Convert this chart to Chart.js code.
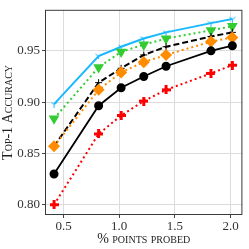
<!DOCTYPE html>
<html>
<head>
<meta charset="utf-8">
<script src="https://cdn.jsdelivr.net/npm/chart.js@4"></script>
<style>
html,body{margin:0;padding:0;background:#fff;}
#wrap{width:249px;height:249px;}
</style>
</head>
<body>
<div id="wrap"><canvas id="c" width="249" height="249"></canvas></div>
<script>
const pointsProbed = [0.415, 0.815, 1.017, 1.22, 1.42, 1.823, 2.015];
const cyanSeries   = [0.898, 0.945, 0.954, 0.962, 0.968, 0.977, 0.981];
const greenSeries  = [0.884, 0.934, 0.949, 0.956, 0.962, 0.970, 0.974];
const dashedSeries = [0.857, 0.919, 0.933, 0.946, 0.954, 0.964, 0.968];
const orangeSeries = [0.857, 0.912, 0.929, 0.939, 0.946, 0.959, 0.963];
const solidSeries  = [0.830, 0.8965, 0.914, 0.925, 0.935, 0.950, 0.955];
const redSeries    = [0.800, 0.869, 0.887, 0.901, 0.912, 0.928, 0.936];
const xTicks = [0.5, 1.0, 1.5, 2.0];
const yTicks = [0.80, 0.85, 0.90, 0.95];

function pts(ys){ return ys.map((y,i)=>({x:pointsProbed[i], y:y})); }

function plusMarker(color, size, arm){
  const c = document.createElement('canvas');
  c.width = size; c.height = size;
  const g = c.getContext('2d');
  g.fillStyle = color;
  const o = (size-arm)/2;
  g.fillRect(o,0,arm,size);
  g.fillRect(0,o,size,arm);
  return c;
}
function triDownMarker(color, size){
  const c = document.createElement('canvas');
  c.width = size; c.height = size;
  const g = c.getContext('2d');
  g.strokeStyle = color; g.lineWidth = 1;
  const m = size/2;
  g.beginPath();
  g.moveTo(m,m); g.lineTo(m,size);
  g.moveTo(m,m); g.lineTo(m-m*0.87,m-m*0.5);
  g.moveTo(m,m); g.lineTo(m+m*0.87,m-m*0.5);
  g.stroke();
  return c;
}

const frame = {
  id:'frame',
  afterDatasetsDraw(chart){
    const a = chart.chartArea, ctx = chart.ctx;
    ctx.save();
    ctx.strokeStyle = '#3a3a3a';
    ctx.lineWidth = 1;
    ctx.strokeRect(a.left+0.5, a.top+0.5, a.right-a.left-1, a.bottom-a.top-1);
    ctx.restore();
  }
};

const serif = "'Liberation Serif', 'DejaVu Serif', serif";

new Chart(document.getElementById('c'), {
  type:'scatter',
  data:{
    datasets:[
      {data:pts(redSeries), showLine:true, borderColor:'#ff0000', borderWidth:2, borderDash:[2,3],
       pointStyle:plusMarker('#ff0000',9,3), pointRadius:4.5, backgroundColor:'#ff0000'},
      {data:pts(solidSeries), showLine:true, borderColor:'#000', borderWidth:1.8,
       pointStyle:'circle', pointRadius:3.6, backgroundColor:'#000', pointBorderColor:'#000'},
      {data:pts(orangeSeries), showLine:true, borderColor:'#ff8c00', borderWidth:2, borderDash:[2,3],
       pointStyle:'rectRot', pointRadius:4.6, backgroundColor:'#ff8c00', pointBorderColor:'#ff8c00'},
      {data:pts(dashedSeries), showLine:true, borderColor:'#000', borderWidth:2, borderDash:[6,3],
       pointStyle:'cross', pointRadius:3.5, pointBorderWidth:1, pointBorderColor:'#000', backgroundColor:'#000'},
      {data:pts(greenSeries), showLine:true, borderColor:'#33cc33', borderWidth:2, borderDash:[2,3],
       pointStyle:'triangle', rotation:180, pointRadius:4.2, backgroundColor:'#33cc33', pointBorderColor:'#33cc33'},
      {data:pts(cyanSeries), showLine:true, borderColor:'#1ab8ff', borderWidth:2,
       pointStyle:triDownMarker('#1ab8ff',7), pointRadius:3.5, backgroundColor:'#1ab8ff'}
    ]
  },
  options:{
    responsive:false,
    animation:false,
    devicePixelRatio:1,
    layout:{padding:{top:1,right:1,left:0,bottom:0}},
    plugins:{legend:{display:false}, tooltip:{enabled:false}},
    scales:{
      x:{
        type:'linear', min:0.334, max:2.105,
        afterBuildTicks(s){ s.ticks = xTicks.map(v=>({value:v})); },
        afterFit(s){ s.height = 34; },
        ticks:{callback:v=>v.toFixed(1), color:'#333', padding:1, maxRotation:0,
               font:{family:serif, size:13}},
        grid:{color:'#dcdcdc', lineWidth:1, tickLength:3, tickColor:'#444'},
        border:{display:false},
        title:{display:true, text:'% points probed', color:'#222', padding:{top:0,bottom:1},
               font:{family:serif, size:14, weight:'small-caps'}}
      },
      y:{
        type:'linear', min:0.790, max:0.990,
        afterBuildTicks(s){ s.ticks = yTicks.map(v=>({value:v})); },
        afterFit(s){ s.width = 45; },
        ticks:{callback:v=>v.toFixed(2), color:'#333', padding:2,
               font:{family:serif, size:13}},
        grid:{color:'#dcdcdc', lineWidth:1, tickLength:3, tickColor:'#444'},
        border:{display:false},
        title:{display:true, text:'Top-1 Accuracy', color:'#222', padding:{top:0,bottom:0},
               font:{family:serif, size:14, weight:'small-caps'}}
      }
    }
  },
  plugins:[frame]
});
</script>
</body>
</html>
